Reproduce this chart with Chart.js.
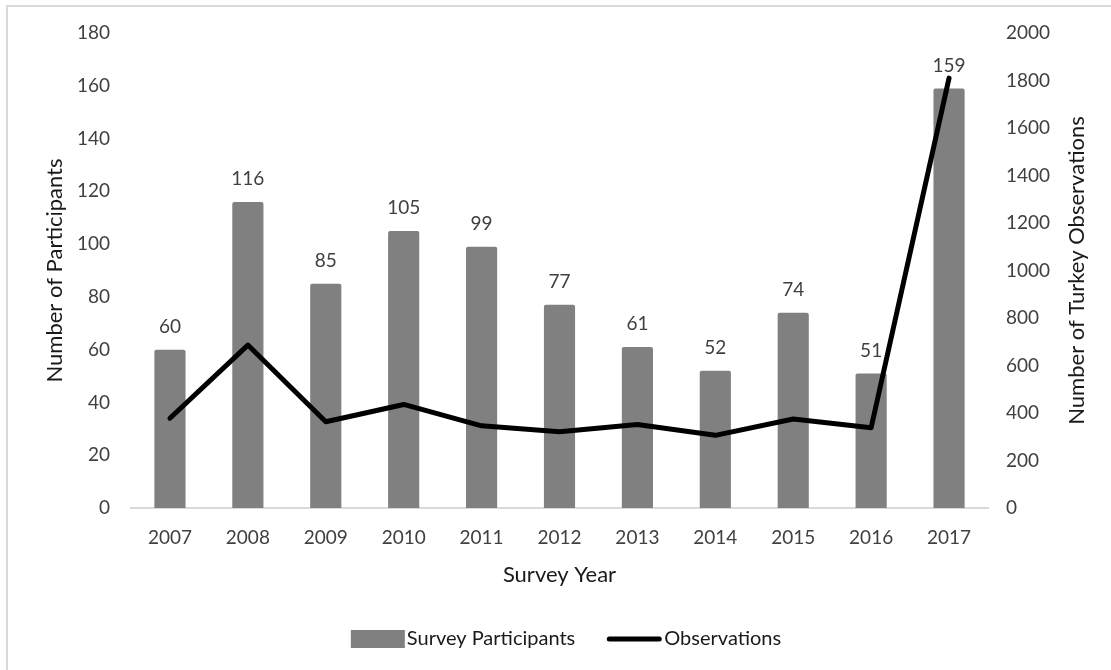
<!DOCTYPE html>
<html>
<head>
<meta charset="utf-8">
<script src="https://cdn.jsdelivr.net/npm/chart.js@4/dist/chart.umd.min.js"></script>
<style>
  html, body { margin: 0; padding: 0; background: #fff; }
  canvas { display: block; }
</style>
</head>
<body>
<canvas id="turkeys" width="1111" height="670"></canvas>
<script>
var years = ["2007","2008","2009","2010","2011","2012","2013","2014","2015","2016","2017"];
var participants = [60, 116, 85, 105, 99, 77, 61, 52, 74, 51, 159];
var observations = [378, 686, 363, 436, 346, 321, 352, 306, 375, 338, 1810];
var leftTicks = [0, 20, 40, 60, 80, 100, 120, 140, 160, 180];
var rightTicks = [0, 200, 400, 600, 800, 1000, 1200, 1400, 1600, 1800, 2000];

var FONT = "Lato";
var tickColor = "#404040";
var titleColor = "#1a1a1a";

// white page + the light frame on the left and top edge
var framePlugin = {
  id: "frame",
  beforeDraw: function(chart) {
    var ctx = chart.ctx;
    ctx.save();
    ctx.fillStyle = "#fff";
    ctx.fillRect(0, 0, chart.width, chart.height);
    ctx.strokeStyle = "#d9d9d9";
    ctx.lineWidth = 2;
    ctx.beginPath();
    ctx.moveTo(7, chart.height);
    ctx.lineTo(7, 6);
    ctx.lineTo(chart.width, 6);
    ctx.stroke();
    ctx.restore();
  }
};

// value labels above the bars (bars are dataset 1)
var barLabels = {
  id: "barLabels",
  afterDatasetsDraw: function(chart) {
    var ctx = chart.ctx;
    var meta = chart.getDatasetMeta(1);
    ctx.save();
    ctx.font = "19px " + FONT;
    ctx.fillStyle = tickColor;
    ctx.textAlign = "center";
    ctx.textBaseline = "middle";
    meta.data.forEach(function(bar, i) {
      ctx.fillText(participants[i], bar.x, bar.y - 23);
    });
    ctx.restore();
  }
};

// right axis title reads bottom-to-top, like the left one
var rightTitle = {
  id: "rightTitle",
  afterDraw: function(chart) {
    var ctx = chart.ctx;
    var area = chart.chartArea;
    ctx.save();
    ctx.translate(1077, (area.top + area.bottom) / 2);
    ctx.rotate(-Math.PI / 2);
    ctx.font = "22px " + FONT;
    ctx.fillStyle = titleColor;
    ctx.textAlign = "center";
    ctx.textBaseline = "middle";
    ctx.fillText("Number of Turkey Observations", 0, 0);
    ctx.restore();
  }
};

// legend: bar swatch, then line swatch, text right next to each
var legendPlugin = {
  id: "customLegend",
  afterDraw: function(chart) {
    var ctx = chart.ctx;
    var bars = chart.data.datasets[1];
    var line = chart.data.datasets[0];
    var y = 639;
    ctx.save();
    ctx.font = "20px " + FONT;
    ctx.textBaseline = "middle";
    ctx.textAlign = "left";
    var w1 = ctx.measureText(bars.label).width;
    var w2 = ctx.measureText(line.label).width;
    var total = 54 + 2 + w1 + 32 + 54 + 3 + w2;
    var x = 566 - total / 2;
    ctx.fillStyle = bars.backgroundColor;
    ctx.fillRect(x, y - 9, 54, 18);
    x += 56;
    ctx.fillStyle = titleColor;
    ctx.fillText(bars.label, x, y);
    x += w1 + 32;
    ctx.strokeStyle = line.borderColor;
    ctx.lineWidth = 5;
    ctx.lineCap = "round";
    ctx.beginPath();
    ctx.moveTo(x + 2, y);
    ctx.lineTo(x + 52, y);
    ctx.stroke();
    x += 57;
    ctx.fillText(line.label, x, y);
    ctx.restore();
  }
};

new Chart("turkeys", {
  data: {
    labels: years,
    datasets: [{
      type: "line",
      label: "Observations",
      data: observations,
      yAxisID: "y1",
      borderColor: "#000",
      backgroundColor: "#000",
      borderWidth: 5,
      borderJoinStyle: "round",
      borderCapStyle: "round",
      pointRadius: 0,
      tension: 0,
      order: 0
    }, {
      type: "bar",
      label: "Survey Participants",
      data: participants,
      yAxisID: "y",
      backgroundColor: "#808080",
      borderRadius: 2,
      borderSkipped: "bottom",
      barPercentage: 0.4,
      categoryPercentage: 1,
      order: 1
    }]
  },
  options: {
    responsive: false,
    animation: false,
    layout: { padding: { top: 33, right: 0, bottom: 60, left: 0 } },
    plugins: {
      tooltip: { enabled: false },
      legend: { display: false }
    },
    scales: {
      x: {
        grid: { display: false, drawTicks: false },
        border: { display: true, color: "#d9d9d9", width: 2 },
        ticks: { color: tickColor, padding: 18, font: { family: FONT, size: 19 } },
        title: {
          display: true,
          text: "Survey Year",
          color: titleColor,
          padding: { top: 0, bottom: 22 },
          font: { family: FONT, size: 22 }
        },
        afterFit: function(scale) { scale.height = 102; }
      },
      y: {
        position: "left",
        min: 0,
        max: 180,
        afterBuildTicks: function(scale) {
          scale.ticks = leftTicks.map(function(v) { return { value: v }; });
        },
        grid: { display: false, drawTicks: false },
        border: { display: false },
        ticks: { color: tickColor, padding: 21, font: { family: FONT, size: 19 } },
        title: {
          display: true,
          text: "Number of Participants",
          color: titleColor,
          padding: { top: 42, bottom: 0 },
          font: { family: FONT, size: 22 }
        },
        afterFit: function(scale) { scale.width = 131; }
      },
      y1: {
        position: "right",
        min: 0,
        max: 2000,
        afterBuildTicks: function(scale) {
          scale.ticks = rightTicks.map(function(v) { return { value: v }; });
        },
        grid: { display: false, drawTicks: false },
        border: { display: false },
        ticks: {
          color: tickColor,
          padding: 18,
          font: { family: FONT, size: 19 },
          callback: function(v) { return String(v); }
        },
        afterFit: function(scale) { scale.width = 123; }
      }
    }
  },
  plugins: [framePlugin, barLabels, rightTitle, legendPlugin]
});
</script>
</body>
</html>
